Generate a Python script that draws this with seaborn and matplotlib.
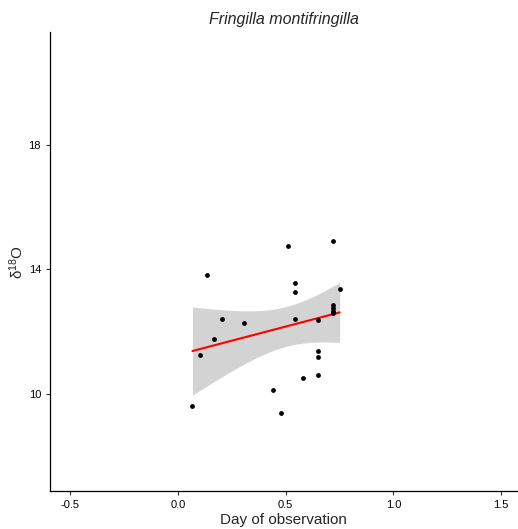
import numpy as np
import pandas as pd
import matplotlib
matplotlib.use("Agg")
import matplotlib.pyplot as plt
import seaborn as sns

# Veriler
day = [0.068, 0.102, 0.137, 0.170, 0.205, 0.307, 0.443, 0.477, 0.511, 0.546,
       0.546, 0.546, 0.580, 0.650, 0.650, 0.650, 0.650, 0.718, 0.718, 0.718,
       0.718, 0.718, 0.751]
d18o = [9.61, 11.24, 13.83, 11.75, 12.42, 12.29, 10.12, 9.39, 14.75, 13.57,
        13.29, 12.41, 10.50, 12.38, 11.39, 11.18, 10.60, 14.91, 12.85, 12.77,
        12.68, 12.59, 13.37]
x_ticks = [-0.5, 0.0, 0.5, 1.0, 1.5]
y_ticks = [10, 14, 18]
title = "Fringilla montifringilla"

df = pd.DataFrame({"day": day, "d18o": d18o})

sns.set_style("ticks")
plt.rcParams["font.family"] = ["Liberation Sans", "DejaVu Sans"]
plt.rcParams["mathtext.fontset"] = "custom"
plt.rcParams["mathtext.rm"] = "Liberation Sans"
plt.rcParams["mathtext.it"] = "Liberation Sans:italic"

fig = plt.figure(figsize=(5.18, 5.29), dpi=100)
ax = fig.add_axes([50 / 518, 1 - 491 / 529, 467 / 518, 459 / 529])

# Analitik %95 güven bandı (lm gibi)
x = df["day"].to_numpy()
y = df["d18o"].to_numpy()
n = len(x)
b1, b0 = np.polyfit(x, y, 1)
resid = y - (b0 + b1 * x)
s = np.sqrt(np.sum(resid ** 2) / (n - 2))
t_crit = 2.080  # t(0.975, df=21)
xg = np.linspace(x.min(), x.max(), 200)
se = s * np.sqrt(1 / n + (xg - x.mean()) ** 2 / np.sum((x - x.mean()) ** 2))
fit = b0 + b1 * xg
ax.fill_between(xg, fit - t_crit * se, fit + t_crit * se,
                color="#d3d3d3", linewidth=0, zorder=1)

sns.regplot(data=df, x="day", y="d18o", ax=ax, ci=None, truncate=True,
            scatter_kws={"s": 12, "color": "black", "linewidths": 0, "alpha": 1,
                         "zorder": 3},
            line_kws={"color": "red", "linewidth": 1.5, "zorder": 2})

ax.set_xlim(-0.593, 1.574)
ax.set_ylim(6.88, 21.63)
ax.set_xticks(x_ticks)
ax.set_xticklabels([f"{t:.1f}" for t in x_ticks])
ax.set_yticks(y_ticks)
ax.tick_params(axis="both", labelsize=8, length=3, width=0.8,
               colors="#333333", labelcolor="black")
for side in ["top", "right"]:
    ax.spines[side].set_visible(False)
for side in ["left", "bottom"]:
    ax.spines[side].set_color("black")
    ax.spines[side].set_linewidth(0.9)

ax.set_xlabel("Day of observation", fontsize=11, labelpad=2)
ax.set_ylabel(r"$\mathregular{\delta^{18}O}$", fontsize=11, labelpad=2)
ax.set_title(title, fontsize=11.5, style="italic", pad=6)

fig.savefig("out.png", dpi=100)
